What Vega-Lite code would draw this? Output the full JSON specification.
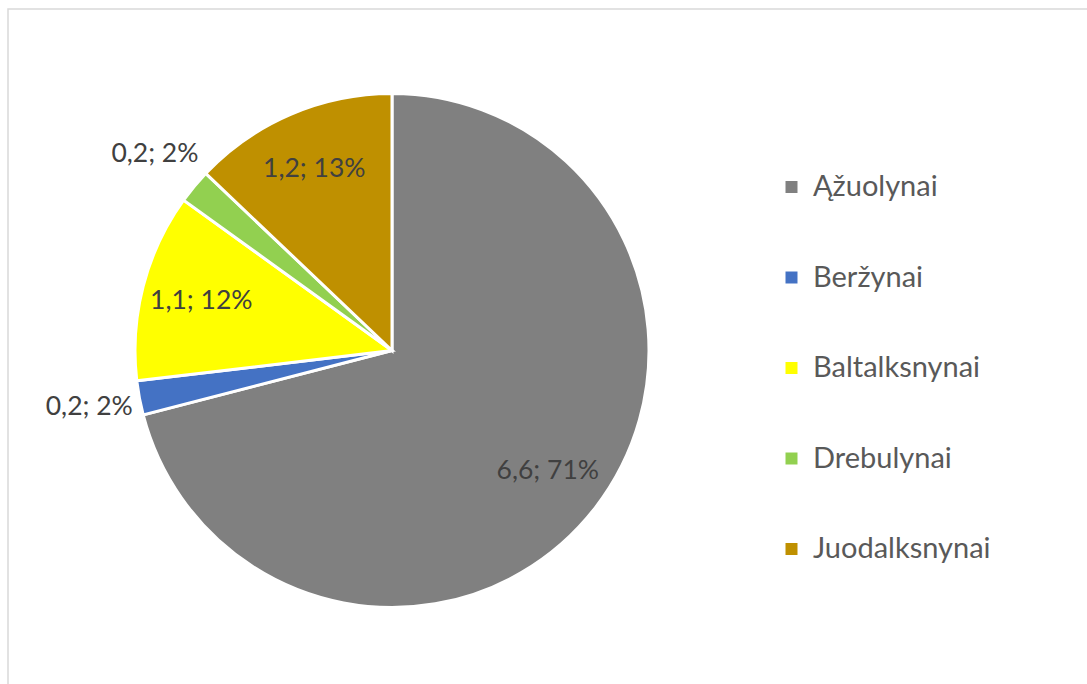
{
  "$schema": "https://vega.github.io/schema/vega-lite/v6.json",
  "autosize": {"type": "none"},
  "padding": {"left": 8, "top": 9, "right": -3, "bottom": -3},
  "width": 1082,
  "height": 678,
  "background": "#ffffff",
  "view": {"stroke": "#d9d9d9", "strokeWidth": 1.5},
  "config": {
    "font": "Lato"
  },
  "data": {
    "values": [
      {"i": 1, "kategorija": "Ąžuolynai", "plotas": 6.6, "etiketė": "6,6; 71%", "vidus": true},
      {"i": 2, "kategorija": "Beržynai", "plotas": 0.2, "etiketė": "0,2; 2%", "vidus": false},
      {"i": 3, "kategorija": "Baltalksnynai", "plotas": 1.1, "etiketė": "1,1; 12%", "vidus": true},
      {"i": 4, "kategorija": "Drebulynai", "plotas": 0.2, "etiketė": "0,2; 2%", "vidus": false},
      {"i": 5, "kategorija": "Juodalksnynai", "plotas": 1.2, "etiketė": "1,2; 13%", "vidus": true}
    ]
  },
  "encoding": {
    "theta": {"field": "plotas", "type": "quantitative", "stack": true},
    "order": {"field": "i", "type": "quantitative"}
  },
  "layer": [
    {
      "mark": {"type": "arc", "outerRadius": 257, "stroke": "#ffffff", "strokeWidth": 3, "xOffset": -157, "yOffset": 2.5},
      "encoding": {
        "color": {
          "field": "kategorija",
          "type": "nominal",
          "sort": null,
          "scale": {
            "domain": ["Ąžuolynai", "Beržynai", "Baltalksnynai", "Drebulynai", "Juodalksnynai"],
            "range": ["#808080", "#4472c4", "#ffff00", "#92d050", "#bf9000"]
          },
          "legend": {
            "title": null,
            "orient": "none",
            "legendX": 769,
            "legendY": 163.5,
            "symbolType": "square",
            "symbolSize": 144,
            "symbolStrokeWidth": 0,
            "labelFontSize": 29,
            "labelColor": "#595959",
            "labelFont": "Lato",
            "labelOffset": 7,
            "rowPadding": 60.5,
            "labelLimit": 400
          }
        }
      }
    },
    {
      "mark": {"type": "text", "radius": 197, "fontSize": 26.5, "color": "#404040", "xOffset": -157, "yOffset": 2.5},
      "encoding": {
        "text": {"condition": {"test": "datum['vidus']", "field": "etiketė"}, "value": ""}
      }
    },
    {
      "mark": {"type": "text", "radius": 308, "fontSize": 26.5, "color": "#404040", "xOffset": -157, "yOffset": 2.5},
      "encoding": {
        "text": {"condition": {"test": "!datum['vidus']", "field": "etiketė"}, "value": ""}
      }
    }
  ]
}
